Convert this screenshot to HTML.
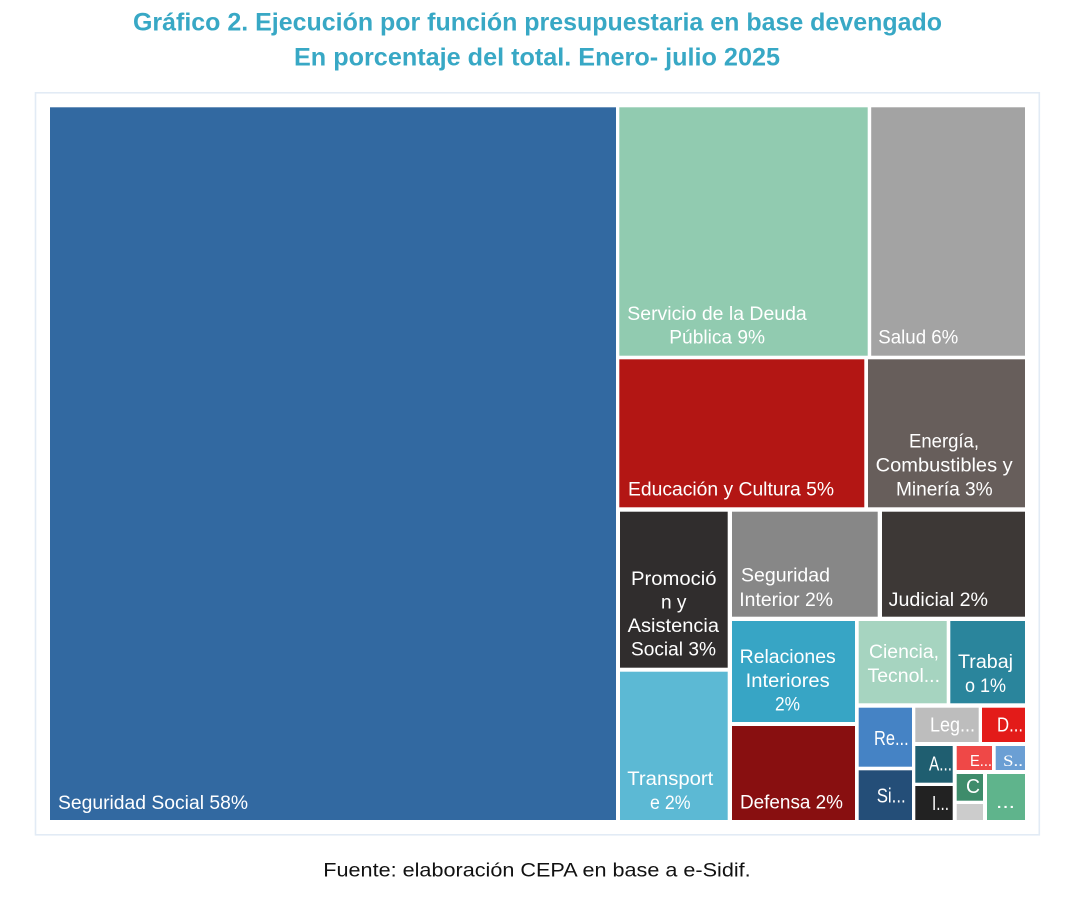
<!DOCTYPE html>
<html>
<head>
<meta charset="utf-8">
<style>
html,body{margin:0;padding:0;background:#fff;}
body{width:1084px;height:897px;overflow:hidden;}
svg{display:block;}
.t{font-family:"Liberation Sans",sans-serif;font-weight:bold;fill:#38a8c5;font-size:25px;}
.l{font-family:"Liberation Sans",sans-serif;fill:#fff;font-size:19px;}
.s{font-family:"Liberation Sans",sans-serif;fill:#111;font-size:19.5px;}
</style>
</head>
<body>
<svg width="1084" height="897" viewBox="0 0 1084 897" xmlns="http://www.w3.org/2000/svg">
<rect width="1084" height="897" fill="#fff"/>
<text class="t" x="133" y="30.5" textLength="809" lengthAdjust="spacingAndGlyphs">Gráfico 2. Ejecución por función presupuestaria en base devengado</text>
<text class="t" x="294" y="65.5" textLength="486" lengthAdjust="spacingAndGlyphs">En porcentaje del total. Enero- julio 2025</text>

<rect x="35.5" y="92.8" width="1003.8" height="742" fill="none" stroke="#e2ebf5" stroke-width="1.6"/>

<!-- tiles -->
<rect x="50" y="107.3" width="566" height="712.7" fill="#3269a1"/>
<rect x="619.3" y="107.3" width="248.4" height="248.4" fill="#91cbb0"/>
<rect x="871.2" y="107.3" width="153.8" height="248.4" fill="#a3a3a3"/>
<rect x="619.3" y="359.3" width="245" height="148" fill="#b31614"/>
<rect x="868" y="359.3" width="157" height="148" fill="#675e5b"/>
<rect x="620" y="511.7" width="107.7" height="156" fill="#302d2d"/>
<rect x="620" y="671.7" width="107.7" height="148.3" fill="#5cb9d4"/>
<rect x="732" y="511.7" width="145.7" height="105" fill="#878787"/>
<rect x="882" y="511.7" width="143" height="105" fill="#3d3836"/>
<rect x="732" y="621" width="123" height="101" fill="#37a5c5"/>
<rect x="732" y="726" width="123" height="94" fill="#880f10"/>
<rect x="858.7" y="621" width="88" height="82.3" fill="#a6d4c0"/>
<rect x="950.3" y="621" width="74.7" height="82.3" fill="#2a859c"/>
<rect x="858.7" y="707.7" width="53.3" height="59" fill="#4583c5"/>
<rect x="858.7" y="770.3" width="53.3" height="49.7" fill="#244e78"/>
<rect x="915.3" y="707.7" width="63.4" height="34.3" fill="#bdbdbd"/>
<rect x="982" y="707.7" width="43" height="34.3" fill="#e31b19"/>
<rect x="915.3" y="746" width="37.4" height="36.7" fill="#1f5e70"/>
<rect x="915.3" y="786" width="37.4" height="34" fill="#222222"/>
<rect x="956.7" y="746" width="35.3" height="24" fill="#ef4847"/>
<rect x="995.7" y="746" width="29.3" height="24" fill="#6b9fd4"/>
<rect x="956.7" y="774" width="26.3" height="26.7" fill="#3e8c6b"/>
<rect x="956.7" y="804" width="26.3" height="16" fill="#cccccc"/>
<rect x="987" y="774" width="38" height="46" fill="#5fb48c"/>

<!-- labels -->
<text class="l" x="58" y="809" textLength="190" lengthAdjust="spacingAndGlyphs">Seguridad Social 58%</text>
<text class="l" x="627.3" y="320" textLength="179.4" lengthAdjust="spacingAndGlyphs">Servicio de la Deuda</text>
<text class="l" x="669.3" y="343.3" textLength="95.7" lengthAdjust="spacingAndGlyphs">Pública 9%</text>
<text class="l" x="878.3" y="343.3" textLength="80" lengthAdjust="spacingAndGlyphs">Salud 6%</text>
<text class="l" x="628" y="495.7" textLength="206" lengthAdjust="spacingAndGlyphs">Educación y Cultura 5%</text>
<text class="l" x="909" y="447.7" textLength="70" lengthAdjust="spacingAndGlyphs">Energía,</text>
<text class="l" x="875.7" y="471.7" textLength="137" lengthAdjust="spacingAndGlyphs">Combustibles y</text>
<text class="l" x="896" y="495.3" textLength="96.7" lengthAdjust="spacingAndGlyphs">Minería 3%</text>
<text class="l" x="631" y="585" textLength="85.5" lengthAdjust="spacingAndGlyphs">Promoció</text>
<text class="l" x="661" y="608.5" textLength="25.5" lengthAdjust="spacingAndGlyphs">n y</text>
<text class="l" x="627.7" y="632" textLength="91.3" lengthAdjust="spacingAndGlyphs">Asistencia</text>
<text class="l" x="631" y="655.7" textLength="85" lengthAdjust="spacingAndGlyphs">Social 3%</text>
<text class="l" x="741" y="581.7" textLength="89" lengthAdjust="spacingAndGlyphs">Seguridad</text>
<text class="l" x="739.3" y="606" textLength="93.7" lengthAdjust="spacingAndGlyphs">Interior 2%</text>
<text class="l" x="888.7" y="606" textLength="99.3" lengthAdjust="spacingAndGlyphs">Judicial 2%</text>
<text class="l" x="739.7" y="663" textLength="96" lengthAdjust="spacingAndGlyphs">Relaciones</text>
<text class="l" x="745.7" y="687" textLength="84" lengthAdjust="spacingAndGlyphs">Interiores</text>
<text class="l" x="775" y="710.7" textLength="25" lengthAdjust="spacingAndGlyphs">2%</text>
<text class="l" x="869" y="658" textLength="70" lengthAdjust="spacingAndGlyphs">Ciencia,</text>
<text class="l" x="867.5" y="682" textLength="72.5" lengthAdjust="spacingAndGlyphs">Tecnol...</text>
<text class="l" x="958" y="668" textLength="55" lengthAdjust="spacingAndGlyphs">Trabaj</text>
<text class="l" x="965" y="692" textLength="41" lengthAdjust="spacingAndGlyphs">o 1%</text>
<text class="l" x="627.3" y="785" textLength="86" lengthAdjust="spacingAndGlyphs">Transport</text>
<text class="l" x="650" y="809" textLength="40.5" lengthAdjust="spacingAndGlyphs">e 2%</text>
<text class="l" x="740" y="808.7" textLength="103" lengthAdjust="spacingAndGlyphs">Defensa 2%</text>
<text class="l" x="874" y="745" style="font-size:20px" textLength="34.7" lengthAdjust="spacingAndGlyphs">Re...</text>
<text class="l" x="876.7" y="802.7" style="font-size:20px" textLength="29" lengthAdjust="spacingAndGlyphs">Si...</text>
<text class="l" x="930" y="731.7" style="font-size:20px" textLength="45" lengthAdjust="spacingAndGlyphs">Leg...</text>
<text class="l" x="997" y="731.7" style="font-size:20px" textLength="26" lengthAdjust="spacingAndGlyphs">D...</text>
<text class="l" x="929" y="770.5" style="font-size:20px" textLength="23" lengthAdjust="spacingAndGlyphs">A...</text>
<text class="l" x="932" y="810" style="font-size:20px" textLength="17" lengthAdjust="spacingAndGlyphs">I...</text>
<text class="l" x="970" y="766" style="font-size:16px" textLength="22" lengthAdjust="spacingAndGlyphs">E...</text>
<text class="l" x="1003" y="766" style="font-size:16px;font-family:'Liberation Serif',serif" textLength="20" lengthAdjust="spacingAndGlyphs">S..</text>
<text class="l" x="966" y="793" style="font-size:20px" textLength="14" lengthAdjust="spacingAndGlyphs">C</text>
<text class="l" x="996" y="808" textLength="19" lengthAdjust="spacingAndGlyphs">...</text>

<text class="s" x="323.3" y="876.7" textLength="427.4" lengthAdjust="spacingAndGlyphs">Fuente: elaboración CEPA en base a e-Sidif.</text>
</svg>
</body>
</html>
